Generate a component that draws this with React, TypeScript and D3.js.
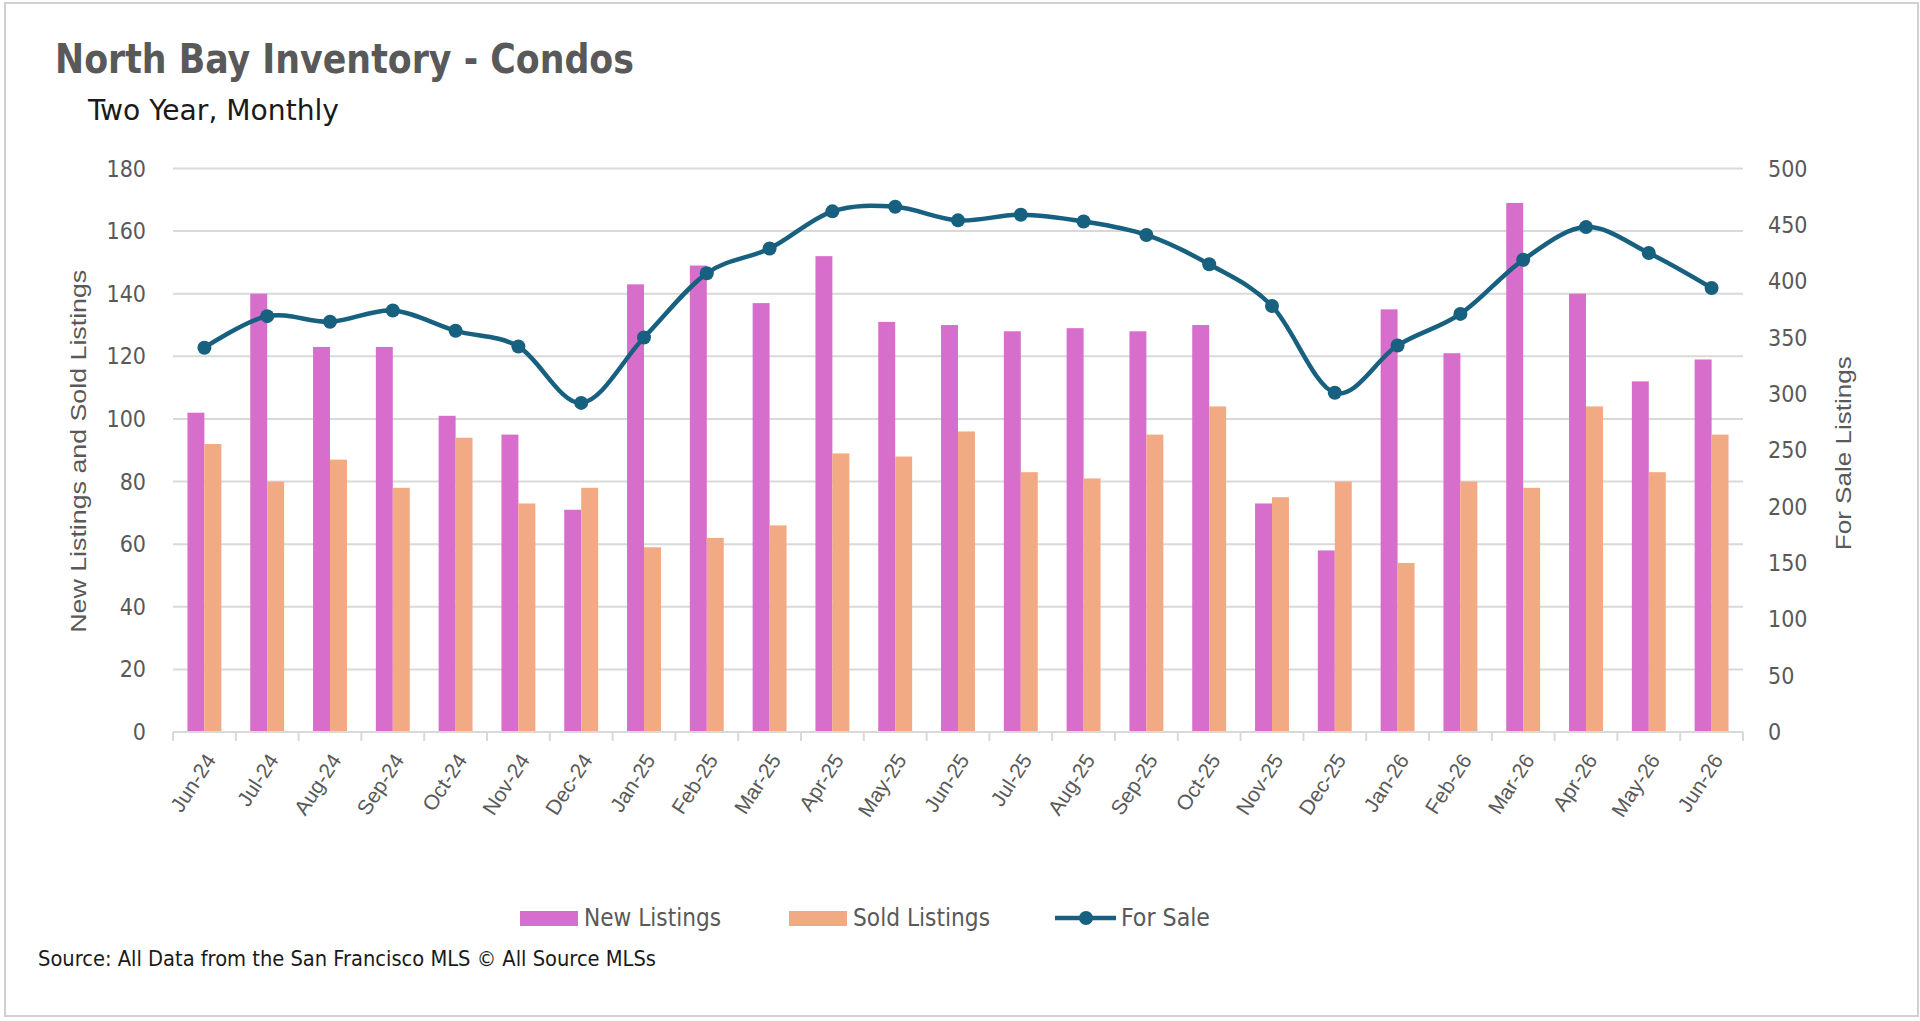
import * as d3 from 'd3';

const months = [
  'Jun-24', 'Jul-24', 'Aug-24', 'Sep-24', 'Oct-24', 'Nov-24', 'Dec-24',
  'Jan-25', 'Feb-25', 'Mar-25', 'Apr-25', 'May-25', 'Jun-25', 'Jul-25',
  'Aug-25', 'Sep-25', 'Oct-25', 'Nov-25', 'Dec-25', 'Jan-26', 'Feb-26',
  'Mar-26', 'Apr-26', 'May-26', 'Jun-26',
];
const newListings = [
  102, 140, 123, 123, 101, 95, 71, 143, 149, 137, 152, 131, 130, 128,
  129, 128, 130, 73, 58, 135, 121, 169, 140, 112, 119,
];
const soldListings = [
  92, 80, 87, 78, 94, 73, 78, 59, 62, 66, 89, 88, 96, 83,
  81, 95, 104, 75, 80, 54, 80, 78, 104, 83, 95,
];
const forSale = [
  341, 369, 364, 374, 356, 342, 292, 350, 407, 429, 462, 466, 454, 459,
  453, 441, 415, 378, 301, 343, 371, 419, 448, 425, 394,
];
const leftTicks = [0, 20, 40, 60, 80, 100, 120, 140, 160, 180];
const rightTicks = [0, 50, 100, 150, 200, 250, 300, 350, 400, 450, 500];

const PINK = '#D86ECC';
const ORANGE = '#F2AA84';
const BLUE = '#17607F';
const GRID = '#D9D9D9';
const AXIS_TEXT = '#595959';
const NARROW = '"Liberation Sans Narrow", "DejaVu Sans Condensed", "Liberation Sans", Arial, sans-serif';
const SANS = '"Liberation Sans", Arial, sans-serif';

export default function App() {
  const width = 1920;
  const height = 1021;
  const plot = { left: 173, right: 1743, top: 168.5, bottom: 732 };

  const x = d3.scaleBand<string>()
    .domain(months)
    .range([plot.left, plot.right])
    .paddingInner(0.46)
    .paddingOuter(0.23);
  const step = x.step();
  const xSub = d3.scaleBand<string>()
    .domain(['new', 'sold'])
    .range([0, x.bandwidth()]);
  const yLeft = d3.scaleLinear().domain([0, 180]).range([plot.bottom, plot.top]);
  const yRight = d3.scaleLinear().domain([0, 500]).range([plot.bottom, plot.top]);
  const cx = (m: string) => (x(m) ?? 0) + x.bandwidth() / 2;

  const line = d3.line<number>()
    .x((_, i) => cx(months[i]))
    .y(d => yRight(d))
    .curve(d3.curveCardinal.tension(0));

  const boundaries = d3.range(months.length + 1).map(i => plot.left + i * step);

  return (
    <div style={{ position: 'fixed', left: 0, top: 0 }}>
      <svg width={width} height={height} style={{ display: 'block', background: '#fff' }}>
        <rect x={5} y={3} width={1913} height={1013} fill="#fff" stroke="#D0D0D0" strokeWidth={2} />

        {/* Titles */}
        <text x={55} y={73} fontFamily={NARROW} fontWeight="bold" fontSize={40} fill="#595959"
          textLength={579} lengthAdjust="spacingAndGlyphs">North Bay Inventory - Condos</text>
        <text x={88} y={120} fontFamily={NARROW} fontSize={29} fill="#1A1A1A"
          textLength={251} lengthAdjust="spacingAndGlyphs">Two Year, Monthly</text>

        {/* Grid + left ticks */}
        {leftTicks.map(t => (
          <g key={`l${t}`}>
            <line x1={plot.left} x2={plot.right} y1={yLeft(t)} y2={yLeft(t)} stroke={GRID} strokeWidth={2} />
            <text x={146} y={yLeft(t)} dy="0.35em" textAnchor="end" fontFamily={NARROW}
              fontSize={23} fill={AXIS_TEXT}>{t}</text>
          </g>
        ))}
        {rightTicks.map(t => (
          <text key={`r${t}`} x={1768} y={yRight(t)} dy="0.35em" fontFamily={NARROW}
            fontSize={23} fill={AXIS_TEXT}>{t}</text>
        ))}

        {/* Axis titles */}
        <text transform={`translate(86, ${(plot.top + plot.bottom) / 2 + 1}) rotate(-90)`} textAnchor="middle"
          fontFamily={SANS} fontSize={22} fill={AXIS_TEXT}
          textLength={363} lengthAdjust="spacingAndGlyphs">New Listings and Sold Listings</text>
        <text transform={`translate(1851, ${(plot.top + plot.bottom) / 2 + 3}) rotate(-90)`} textAnchor="middle"
          fontFamily={SANS} fontSize={22} fill={AXIS_TEXT}
          textLength={194} lengthAdjust="spacingAndGlyphs">For Sale Listings</text>

        {/* Bars */}
        {months.map((m, i) => (
          <g key={m} transform={`translate(${x(m)},0)`}>
            <rect x={xSub('new')} y={yLeft(newListings[i])} width={xSub.bandwidth()}
              height={plot.bottom - yLeft(newListings[i])} fill={PINK} />
            <rect x={xSub('sold')} y={yLeft(soldListings[i])} width={xSub.bandwidth()}
              height={plot.bottom - yLeft(soldListings[i])} fill={ORANGE} />
          </g>
        ))}

        {/* X axis */}
        <line x1={plot.left} x2={plot.right} y1={plot.bottom} y2={plot.bottom} stroke={GRID} strokeWidth={2} />
        {boundaries.map((bx, i) => (
          <line key={`t${i}`} x1={bx} x2={bx} y1={plot.bottom} y2={plot.bottom + 9} stroke={GRID} strokeWidth={2} />
        ))}
        {months.map(m => (
          <text key={`x${m}`} transform={`translate(${cx(m) + 6}, ${plot.bottom + 24}) rotate(-57)`}
            textAnchor="end" dy="0.35em" fontFamily={SANS} fontSize={21} fill={AXIS_TEXT}>{m}</text>
        ))}

        {/* For Sale line */}
        <path d={line(forSale) ?? ''} fill="none" stroke={BLUE} strokeWidth={4.5} />
        {forSale.map((v, i) => (
          <circle key={`c${i}`} cx={cx(months[i])} cy={yRight(v)} r={7} fill={BLUE} />
        ))}

        {/* Legend */}
        <rect x={520} y={911} width={58} height={15} fill={PINK} />
        <text x={584} y={918} dy="0.35em" fontFamily={NARROW} fontSize={24} fill={AXIS_TEXT}
          textLength={137} lengthAdjust="spacingAndGlyphs">New Listings</text>
        <rect x={789} y={911} width={58} height={15} fill={ORANGE} />
        <text x={853} y={918} dy="0.35em" fontFamily={NARROW} fontSize={24} fill={AXIS_TEXT}
          textLength={137} lengthAdjust="spacingAndGlyphs">Sold Listings</text>
        <line x1={1055} x2={1116} y1={918} y2={918} stroke={BLUE} strokeWidth={4.5} />
        <circle cx={1086} cy={918} r={7} fill={BLUE} />
        <text x={1121} y={918} dy="0.35em" fontFamily={NARROW} fontSize={24} fill={AXIS_TEXT}
          textLength={89} lengthAdjust="spacingAndGlyphs">For Sale</text>

        {/* Source */}
        <text x={38} y={959} dy="0.35em" fontFamily={NARROW} fontSize={21} fill="#1A1A1A"
          textLength={618} lengthAdjust="spacingAndGlyphs">Source: All Data from the San Francisco MLS © All Source MLSs</text>
      </svg>
    </div>
  );
}
